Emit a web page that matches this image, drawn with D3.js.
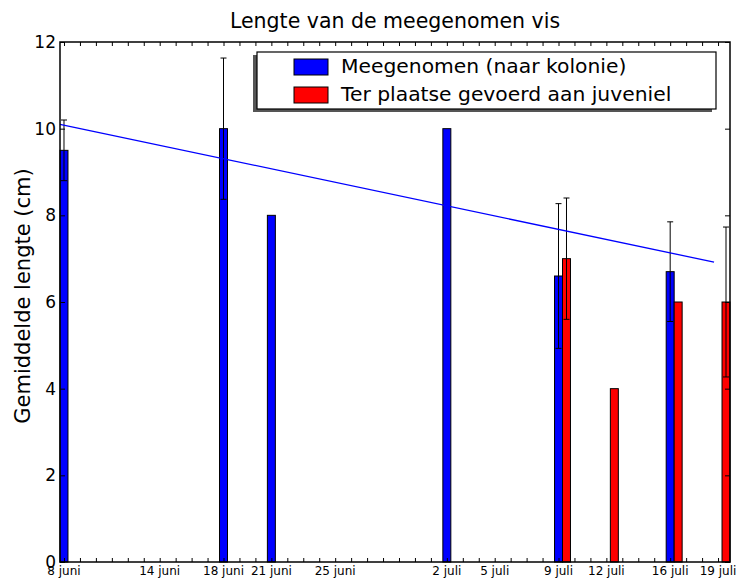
<!DOCTYPE html>
<html lang="nl">
<head>
<meta charset="UTF-8">
<title>Lengte van de meegenomen vis</title>
<script src="https://d3js.org/d3.v7.min.js"></script>
<style>
  body { margin: 0; background: #fff; font-family: 'DejaVu Sans', sans-serif; }
  svg text { font-family: 'DejaVu Sans', sans-serif; fill: #000; }
</style>
</head>
<body>
<svg id="chart" width="736" height="581"></svg>
<script>
// x is measured in days after 8 juni
const tickDays = [0, 6, 10, 13, 17, 24, 27, 31, 34, 38, 41];
const tickLabels = ["8 juni", "14 juni", "18 juni", "21 juni", "25 juni",
                    "2 juli", "5 juli", "9 juli", "12 juli", "16 juli", "19 juli"];

const blueDays = [0, 10, 13, 24, 31, 38];
const blueValues = [9.5, 10, 8, 10, 6.6, 6.7];
const blueErr = [0.7, 1.63, 0, 0, 1.67, 1.15];

const redDays = [31, 34, 38, 41];
const redValues = [7, 4, 6, 6];
const redErr = [1.4, 0, 0, 1.73];

// trend line end points
const trendDays = [-0.25, 40.75];
const trendValues = [10.1, 6.92];

const yTicks = [0, 2, 4, 6, 8, 10, 12];
const legendLabels = ["Meegenomen (naar kolonie)", "Ter plaatse gevoerd aan juveniel"];

const svg = d3.select("#chart");
const pLeft = 60, pRight = 730, pTop = 42, pBottom = 562;
const barW = 0.5;

const x = d3.scaleLinear().domain([-0.25, 41.75]).range([pLeft, pRight]);
const y = d3.scaleLinear().domain([0, 12]).range([pBottom, pTop]);

// title
svg.append("text")
  .attr("x", (pLeft + pRight) / 2).attr("y", 28)
  .attr("text-anchor", "middle")
  .style("font-size", "20.5px")
  .text("Lengte van de meegenomen vis");

// y label
svg.append("text")
  .attr("transform", `translate(30,${296}) rotate(-90)`)
  .attr("text-anchor", "middle")
  .style("font-size", "21px")
  .text("Gemiddelde lengte (cm)");

const plot = svg.append("g");

function drawBars(days, values, errs, offset, color) {
  const data = days.map((d, i) => ({ d: d + offset, v: values[i], e: errs[i] }));
  plot.selectAll(null).data(data).enter().append("rect")
    .attr("x", p => x(p.d - barW / 2))
    .attr("y", p => y(p.v))
    .attr("width", p => x(p.d + barW / 2) - x(p.d - barW / 2))
    .attr("height", p => y(0) - y(p.v))
    .attr("fill", color)
    .attr("stroke", "#000")
    .attr("stroke-width", 1);
  const eb = data.filter(p => p.e > 0);
  plot.selectAll(null).data(eb).enter().append("line")
    .attr("x1", p => x(p.d)).attr("x2", p => x(p.d))
    .attr("y1", p => y(p.v - p.e)).attr("y2", p => y(p.v + p.e))
    .attr("stroke", "#000").attr("stroke-width", 1);
  [-1, 1].forEach(s => {
    plot.selectAll(null).data(eb).enter().append("line")
      .attr("x1", p => x(p.d) - 3).attr("x2", p => x(p.d) + 3)
      .attr("y1", p => y(p.v + s * p.e)).attr("y2", p => y(p.v + s * p.e))
      .attr("stroke", "#000").attr("stroke-width", 1);
  });
}

drawBars(blueDays, blueValues, blueErr, 0, "#0000ff");
drawBars(redDays, redValues, redErr, barW, "#ff0000");

// trend line
plot.append("path")
  .datum(trendDays.map((d, i) => [d, trendValues[i]]))
  .attr("fill", "none")
  .attr("stroke", "#0000ff")
  .attr("stroke-width", 1.3)
  .attr("d", d3.line().x(p => x(p[0])).y(p => y(p[1])));

// axes: inward ticks on all sides
const days = d3.range(0, 42);
const xBottom = svg.append("g").attr("transform", `translate(0,${pBottom})`)
  .call(d3.axisBottom(x).tickValues(days).tickSize(-4).tickFormat(""));
const xTop = svg.append("g").attr("transform", `translate(0,${pTop})`)
  .call(d3.axisTop(x).tickValues(days).tickSize(-4).tickFormat(""));
const yLeft = svg.append("g").attr("transform", `translate(${pLeft},0)`)
  .call(d3.axisLeft(y).tickValues(yTicks).tickSize(-5).tickFormat(""));
const yRight = svg.append("g").attr("transform", `translate(${pRight},0)`)
  .call(d3.axisRight(y).tickValues(yTicks).tickSize(-5).tickFormat(""));
[xBottom, xTop, yLeft, yRight].forEach(g => {
  g.select(".domain").remove();
  g.selectAll(".tick line").attr("stroke", "#000").attr("stroke-width", 1);
});

svg.append("rect")
  .attr("x", pLeft).attr("y", pTop)
  .attr("width", pRight - pLeft).attr("height", pBottom - pTop)
  .attr("fill", "none").attr("stroke", "#000").attr("stroke-width", 1.5);

// tick labels
svg.append("g").selectAll("text").data(tickDays).enter().append("text")
  .attr("x", d => x(d)).attr("y", pBottom + 13)
  .attr("text-anchor", "middle")
  .style("font-size", "12px")
  .text((d, i) => tickLabels[i]);

svg.append("g").selectAll("text").data(yTicks).enter().append("text")
  .attr("x", pLeft - 4).attr("y", d => y(d) + 6)
  .attr("text-anchor", "end")
  .style("font-size", "17px")
  .text(d => d);

// legend
const lg = svg.append("g").attr("transform", "translate(257,52)");
const lw = 459, lh = 57;
lg.append("rect").attr("x", -4).attr("y", 3).attr("width", lw).attr("height", lh)
  .attr("fill", "#555");
lg.append("rect").attr("width", lw).attr("height", lh)
  .attr("fill", "#fff").attr("stroke", "#000").attr("stroke-width", 1.2);
const colors = ["#0000ff", "#ff0000"];
legendLabels.forEach((t, i) => {
  lg.append("rect").attr("x", 37).attr("y", 7 + i * 28).attr("width", 34).attr("height", 16)
    .attr("fill", colors[i]).attr("stroke", "#000").attr("stroke-width", 1);
  lg.append("text").attr("x", 84).attr("y", 20.5 + i * 28.3)
    .style("font-size", "20.3px").text(t);
});
</script>
</body>
</html>
